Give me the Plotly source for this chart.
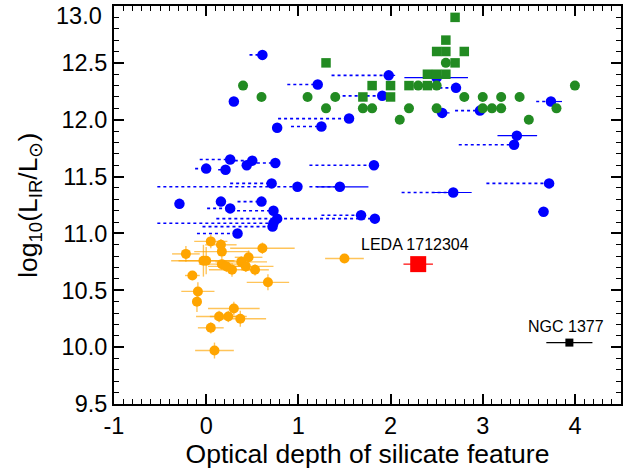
import plotly.graph_objects as go

# ---------------- data ----------------
# Green squares
gsq_x = [1.3, 2.7, 2.6, 2.5, 2.6, 2.8, 2.7, 2.4, 2.5, 2.6, 1.8, 2.0, 2.2, 2.4, 1.7, 2.0]
gsq_y = [12.5, 12.9, 12.7, 12.6, 12.6, 12.6, 12.5, 12.4, 12.4, 12.4, 12.3, 12.3, 12.3, 12.3, 12.2, 12.2]

# Green circles
gci_x = [0.4, 0.6, 1.1, 1.4, 1.3, 1.7, 1.8, 2.6, 2.3, 2.5, 2.8, 3.0, 3.2, 3.4,
         2.1, 2.2, 2.5, 3.0, 3.1, 3.2, 3.5, 3.8, 4.0]
gci_y = [12.3, 12.2, 12.2, 12.2, 12.1, 12.1, 12.1, 12.5, 12.3, 12.3, 12.2, 12.2, 12.2, 12.2,
         12.0, 12.1, 12.1, 12.1, 12.1, 12.1, 12.0, 12.1, 12.3]

# Blue circles: value, left end of dotted range, solid error range
blue_x = [0.61, 1.98, 0.30, 1.21, 1.91, 1.55, 0.77, 1.25, 2.50, 2.71, 2.56, 2.97, 3.74,
          3.37, 3.34, 0.26, 0.50, 0.44, 0.75, 0.00, 0.21, 1.82, 0.71, 0.99, 1.45, 2.68,
          3.72, -0.29, 0.16, 0.60, 0.26, 0.73, 0.77, 1.68, 1.83, 0.73, 0.72, 0.34, 3.66]
blue_y = [12.57, 12.39, 12.16, 12.31, 12.21, 12.01, 11.93, 11.94, 12.37, 12.28, 12.06, 12.08, 12.16,
          11.86, 11.78, 11.65, 11.64, 11.60, 11.62, 11.57, 11.56, 11.60, 11.44, 11.41, 11.41, 11.36,
          11.44, 11.26, 11.28, 11.28, 11.22, 11.20, 11.13, 11.16, 11.13, 11.09, 11.06, 11.00, 11.19]
blue_dot_lo = [0.47, 1.36, None, 0.88, 1.48, 0.78, None, 0.92, None, 2.53, None, 2.70, 3.58,
               None, 2.74, -0.07, 0.31, None, 0.55, -0.12, 0.13, 1.12, 0.26, -0.53, 1.12, 2.12,
               3.04, None, None, 0.34, 0.01, 0.27, 0.11, 1.25, 0.78, -0.53, -0.04, -0.10, 3.60]
blue_err_lo = [None, None, None, None, None, None, None, None, 2.15, None, 2.50, None, None,
               3.16, None, None, None, None, None, None, None, None, None, None, 1.20, 2.45,
               None, None, None, None, None, None, None, None, None, None, None, None, None]
blue_err_hi = [None, 2.05, None, None, None, None, None, None, 2.84, None, 2.64, None, 3.86,
               3.59, None, None, None, None, None, None, None, None, None, None, 1.76, 2.88,
               None, None, None, None, None, None, None, None, None, None, None, None, None]

# Orange circles with errors
or_x = [0.05, 0.16, 0.61, -0.22, 0.17, -0.03, 0.00, 0.17, 0.22, 0.28, 0.38, 0.46, 0.43, 0.53,
        -0.15, 0.67, -0.09, -0.10, 0.30, 0.14, 0.24, 0.37, 0.05, 0.09, 1.50]
or_y = [10.93, 10.90, 10.87, 10.82, 10.84, 10.76, 10.76, 10.73, 10.71, 10.68, 10.75, 10.79, 10.71, 10.68,
        10.63, 10.57, 10.49, 10.40, 10.34, 10.27, 10.27, 10.25, 10.17, 9.97, 10.78]
or_xerr = [0.18, 0.17, 0.35, 0.15, 0.30, 0.35, 0.30, 0.25, 0.20, 0.25, 0.28, 0.15, 0.30, 0.15,
           0.08, 0.23, 0.18, 0.05, 0.28, 0.25, 0.20, 0.28, 0.14, 0.21, 0.21]
or_yerr = [0.06, 0.05, 0.05, 0.07, 0.06, 0.14, 0.12, 0.05, 0.05, 0.06, 0.05, 0.06, 0.05, 0.05,
           0.04, 0.07, 0.08, 0.09, 0.06, 0.05, 0.05, 0.07, 0.05, 0.07, 0.04]

# Special objects
leda_x, leda_y, leda_xerr, leda_yerr = [2.30], [10.73], [0.16], [0.05]
ngc_x, ngc_y, ngc_xerr = [3.94], [10.04], [0.25]

x_ticks = [-1, 0, 1, 2, 3, 4]
y_ticks = [9.5, 10.0, 10.5, 11.0, 11.5, 12.0, 12.5, 13.0]
x_range = [-1, 4.5]
y_range = [9.5, 13.0]

FONT = "Liberation Sans, Arial, sans-serif"
TICK_SIZE = 23.5
TITLE_SIZE = 26.5

# ---------------- figure ----------------
fig = go.Figure()

# dotted ranges
dx, dy = [], []
for x, y, lo in zip(blue_x, blue_y, blue_dot_lo):
    if lo is not None:
        dx += [lo, x, None]
        dy += [y, y, None]
fig.add_trace(go.Scatter(x=dx, y=dy, mode="lines",
                         line=dict(color="#0000FF", width=1.6, dash="dot"),
                         hoverinfo="skip", showlegend=False))

# blue solid errors + points
e_minus = [x - lo if lo is not None else 0 for x, lo in zip(blue_x, blue_err_lo)]
e_plus = [hi - x if hi is not None else 0 for x, hi in zip(blue_x, blue_err_hi)]
fig.add_trace(go.Scatter(x=blue_x, y=blue_y, mode="markers",
                         marker=dict(color="#0000FF", size=10.5, symbol="circle"),
                         error_x=dict(type="data", symmetric=False, array=e_plus, arrayminus=e_minus,
                                      color="#0000FF", thickness=1.2, width=0),
                         showlegend=False))

# orange
fig.add_trace(go.Scatter(x=or_x, y=or_y, mode="markers",
                         marker=dict(color="#FFA500", size=10, symbol="circle"),
                         error_x=dict(type="data", array=or_xerr, color="rgba(255,165,0,0.65)",
                                      thickness=1.4, width=0),
                         error_y=dict(type="data", array=or_yerr, color="rgba(255,165,0,0.65)",
                                      thickness=1.4, width=0),
                         showlegend=False))

# green
fig.add_trace(go.Scatter(x=gci_x, y=gci_y, mode="markers",
                         marker=dict(color="#228B22", size=10, symbol="circle"),
                         showlegend=False))
fig.add_trace(go.Scatter(x=gsq_x, y=gsq_y, mode="markers",
                         marker=dict(color="#228B22", size=9.5, symbol="square"),
                         showlegend=False))

# LEDA
fig.add_trace(go.Scatter(x=leda_x, y=leda_y, mode="markers",
                         marker=dict(color="#FF0000", size=16, symbol="square"),
                         error_x=dict(type="data", array=leda_xerr, color="#FF0000", thickness=1.2, width=0),
                         error_y=dict(type="data", array=leda_yerr, color="#FF0000", thickness=1.2, width=0),
                         showlegend=False))
# NGC 1377
fig.add_trace(go.Scatter(x=ngc_x, y=ngc_y, mode="markers",
                         marker=dict(color="#000000", size=8, symbol="square"),
                         error_x=dict(type="data", array=ngc_xerr, color="#000000", thickness=1.2, width=0),
                         showlegend=False))

# invisible trace for the mirrored (top/right) axes
fig.add_trace(go.Scatter(x=[x_range[0]], y=[y_range[0]], xaxis="x2", yaxis="y2", mode="markers",
                         marker=dict(opacity=0), hoverinfo="skip", showlegend=False))

fig.add_annotation(x=2.26, y=10.90, text="LEDA 1712304", showarrow=False,
                   font=dict(size=16, color="black", family=FONT))
fig.add_annotation(x=3.90, y=10.18, text="NGC 1377", showarrow=False,
                   font=dict(size=16, color="black", family=FONT))

# top y tick label, nudged down so it stays inside the page (as in the reference)
y_ticktext = [f"{v:.1f}" for v in y_ticks]
top_label = y_ticktext[-1]
y_ticktext[-1] = " "
fig.add_annotation(xref="paper", x=0, y=y_ticks[-1], yref="y", text=top_label, showarrow=False,
                   xanchor="right", yanchor="middle", xshift=-10, yshift=-10,
                   font=dict(size=TICK_SIZE, color="black", family=FONT))

# y axis title
fig.add_annotation(xref="paper", yref="paper", x=-0.166, y=0.5, textangle=-90, showarrow=False,
                   text="log<sub>10</sub>(L<sub>IR</sub>/L<sub>⊙</sub>)",
                   xanchor="center", yanchor="middle",
                   font=dict(size=TITLE_SIZE, color="black", family=FONT))

minor = dict(dtick=0.1, ticks="inside", ticklen=5, tickwidth=1.2, tickcolor="black")
axis_common = dict(showgrid=False, zeroline=False, showline=True, linecolor="black", linewidth=2,
                   ticks="inside", ticklen=10, tickwidth=1.5, tickcolor="black",
                   automargin=False, ticklabeloverflow="allow",
                   tickfont=dict(size=TICK_SIZE, color="black", family=FONT))
axis_mirror = {k: v for k, v in axis_common.items() if k not in ("tickfont", "ticklabeloverflow")}

fig.update_layout(
    xaxis=dict(range=x_range, tickvals=x_ticks, ticktext=[str(v) for v in x_ticks], minor=minor,
               title=dict(text="Optical depth of silicate feature",
                          font=dict(size=TITLE_SIZE, color="black", family=FONT), standoff=5),
               **axis_common),
    yaxis=dict(range=y_range, tickvals=y_ticks, ticktext=y_ticktext, minor=minor, **axis_common),
    xaxis2=dict(range=x_range, tickvals=x_ticks, minor=minor, overlaying="x", side="top",
                anchor="y2", showticklabels=False, **axis_mirror),
    yaxis2=dict(range=y_range, tickvals=y_ticks, minor=minor, overlaying="y", side="right",
                anchor="x2", showticklabels=False, **axis_mirror),
    width=638, height=475, margin=dict(l=114, r=17, t=6, b=71),
    plot_bgcolor="white", paper_bgcolor="white",
    font=dict(family=FONT, color="black"),
)

fig.write_html("out.html", config={"displayModeBar": False},
               post_script="document.body.style.margin='0';document.body.style.overflow='hidden';")
